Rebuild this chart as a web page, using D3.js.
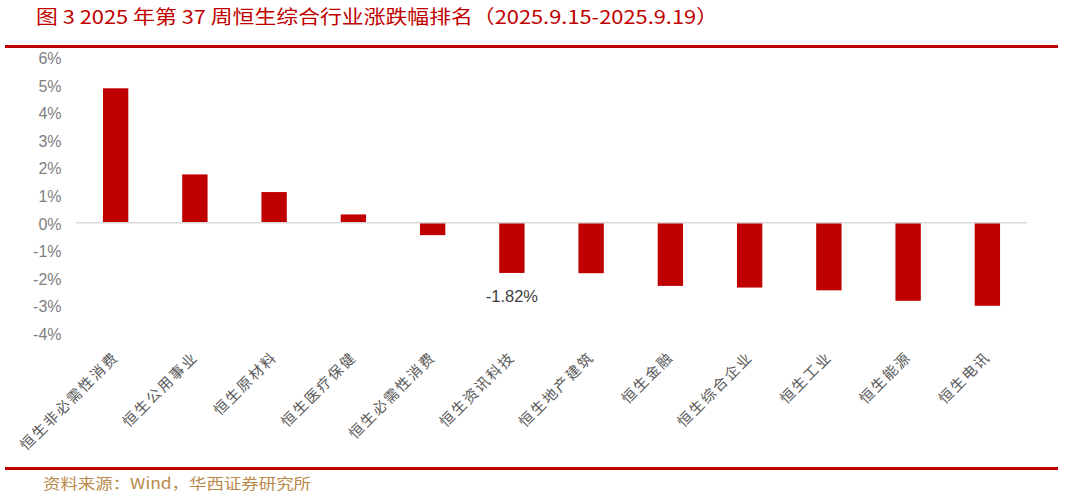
<!DOCTYPE html>
<html><head><meta charset="utf-8">
<script src="https://cdn.jsdelivr.net/npm/d3@7/dist/d3.min.js"></script>
<style>
html,body{margin:0;padding:0;background:#fff;}
svg{display:block;}
</style></head>
<body>
<svg id="chart" width="1065" height="497"></svg>
<script>
const titleText = "图 3 2025 年第 37 周恒生综合行业涨跌幅排名（2025.9.15-2025.9.19）";
const sourceText = "资料来源：Wind，华西证券研究所";
const categories = ["恒生非必需性消费","恒生公用事业","恒生原材料","恒生医疗保健","恒生必需性消费","恒生资讯科技","恒生地产建筑","恒生金融","恒生综合企业","恒生工业","恒生能源","恒生电讯"];
const values = [4.87, 1.75, 1.11, 0.30, -0.45, -1.82, -1.83, -2.29, -2.35, -2.45, -2.83, -3.01];
const yTicks = [6,5,4,3,2,1,0,-1,-2,-3,-4];
const annotated = [{cat:"恒生资讯科技", label:"-1.82%"}];

const svg = d3.select("#chart");
const red = "#c00000";
const cjk = "'Noto Sans CJK SC','Noto Sans',sans-serif";

// title
svg.append("text").attr("x",36).attr("y",24)
  .attr("font-family",cjk).attr("font-size",19).attr("fill",red)
  .attr("textLength",682).attr("lengthAdjust","spacingAndGlyphs")
  .text(titleText);
// rules
svg.append("rect").attr("x",5).attr("y",45).attr("width",1053).attr("height",3).attr("fill",red);
svg.append("rect").attr("x",5).attr("y",467).attr("width",1053).attr("height",3).attr("fill",red);
// source
svg.append("text").attr("x",43).attr("y",489)
  .attr("font-family",cjk).attr("font-size",15).attr("fill","#b8894a")
  .attr("textLength",268).attr("lengthAdjust","spacingAndGlyphs")
  .text(sourceText);

const x = d3.scaleBand().domain(categories).range([76,1027]).padding(0);
const y = d3.scaleLinear().domain([-4,6]).range([333.1,57.1]);
const barW = x.bandwidth()*0.32;

// y axis
const yAxis = d3.axisLeft(y).tickValues(yTicks).tickSize(0).tickPadding(14.5)
  .tickFormat(d => d + "%");
const ya = svg.append("g").attr("transform","translate(76,0)").call(yAxis);
ya.select(".domain").remove();
ya.selectAll("text").attr("font-family","'Liberation Sans Narrow','Liberation Sans',Arial,sans-serif")
  .attr("font-size",16).attr("fill","#808080").attr("dy","0.4em");

// bars
svg.append("g").selectAll("rect").data(categories).join("rect")
  .attr("x", (d)=> x(d) + x.bandwidth()/2 - barW/2)
  .attr("width", barW)
  .attr("y", (d,i)=> Math.min(y(0), y(values[i])))
  .attr("height", (d,i)=> Math.abs(y(values[i]) - y(0)))
  .attr("fill", red);

// zero line
svg.append("line").attr("x1",76).attr("x2",1027).attr("y1",y(0)).attr("y2",y(0))
  .attr("stroke","#d9d9d9").attr("stroke-width",1.5);

// x labels
const xa = d3.axisBottom(x).tickSize(0).tickPadding(0);
const xg = svg.append("g").attr("transform","translate(0,350)").call(xa);
xg.select(".domain").remove();
xg.selectAll("text")
  .attr("font-family",cjk).attr("font-size",14.5).attr("fill","#595959")
  .attr("letter-spacing","2px")
  .attr("text-anchor","end").attr("dy",0).attr("y",0)
  .attr("transform","translate(4,8) rotate(-45)");

// annotation
svg.append("g").selectAll("text").data(annotated).join("text")
  .attr("x", d => x(d.cat) + x.bandwidth()/2)
  .attr("y", d => y(values[categories.indexOf(d.cat)]) + 29)
  .attr("text-anchor","middle")
  .attr("font-family","'Liberation Sans',Arial,sans-serif").attr("font-size",16.5).attr("fill","#404040")
  .text(d => d.label);
</script>
</body></html>
